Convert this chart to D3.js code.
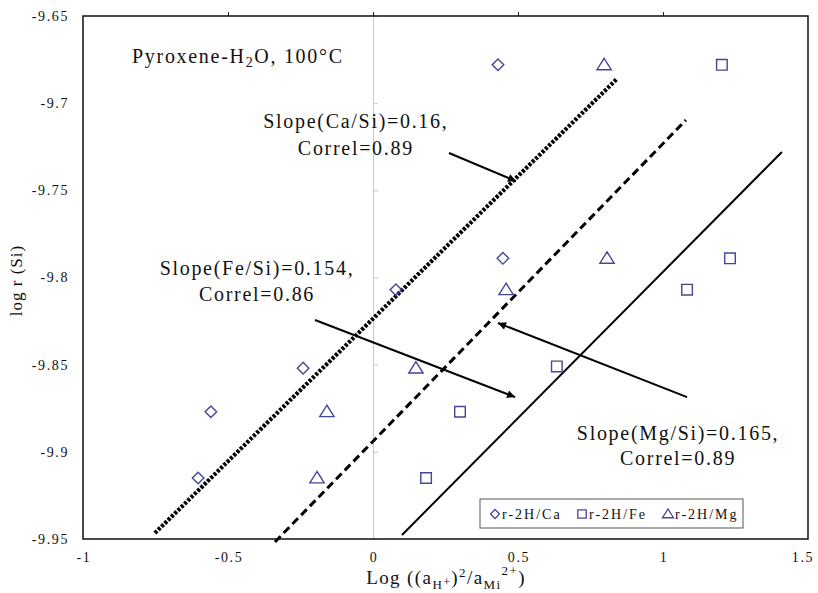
<!DOCTYPE html>
<html><head><meta charset="utf-8">
<script src="https://cdn.jsdelivr.net/npm/d3@7"></script>
<style>
html,body{margin:0;padding:0;background:#fff;}
text{font-family:"Liberation Serif","Times New Roman",serif;fill:#111;}
</style></head>
<body><svg id="chart" width="818" height="593"></svg>
<script>
// ---- data ----
const caX = [0.431, 0.448, 0.079, -0.241, -0.559, -0.603];
const caY = [-9.678, -9.789, -9.807, -9.852, -9.877, -9.915];
const feX = [1.203, 1.231, 1.083, 0.634, 0.300, 0.183];
const feY = [-9.678, -9.789, -9.807, -9.851, -9.877, -9.915];
const mgX = [0.797, 0.807, 0.459, 0.148, -0.159, -0.193];
const mgY = [-9.678, -9.789, -9.807, -9.852, -9.877, -9.915];
const xTicks = [-1, -0.5, 0, 0.5, 1, 1.5];
const xTickLabels = ["-1", "-0.5", "0", "0.5", "1", "1.5"];
const yTicks = [-9.65, -9.7, -9.75, -9.8, -9.85, -9.9, -9.95];
const yTickLabels = ["-9.65", "-9.7", "-9.75", "-9.8", "-9.85", "-9.9", "-9.95"];
// trend lines [x0,y0,x1,y1]
const caTrend = [-0.752, -9.9466, 0.841, -9.6861];
const feTrend = [-0.338, -9.9517, 1.079, -9.7097];
const mgTrend = [0.100, -9.9477, 1.410, -9.728];
// annotation arrows [xFrom,yFrom,xTo,yTo]
const caArrow = [0.262, -9.7286, 0.493, -9.7447];
const feArrow = [-0.200, -9.8244, 0.490, -9.8686];
const mgArrow = [1.083, -9.8686, 0.431, -9.8261];
const legendLabels = ["r-2H/Ca", "r-2H/Fe", "r-2H/Mg"];

const svg = d3.select("#chart");
const L = 83, R = 808, T = 16, B = 539;
const x = d3.scaleLinear().domain([-1, 1.5]).range([L, R]);
const y = d3.scaleLinear().domain([-9.95, -9.65]).range([B, T]);
const markColor = "#45459a";

// gray y axis at x=0
const yAxis = d3.axisRight(y).tickValues(yTicks).tickSize(5).tickFormat("");
const gy = svg.append("g").attr("transform", `translate(${x(0)},0)`).call(yAxis);
gy.selectAll("path,line").attr("stroke", "#c8c8c8").attr("stroke-width", 1);

// top ticks (x axis at top)
const xAxis = d3.axisTop(x).tickValues(xTicks.slice(1, 5)).tickSize(4).tickFormat("");
const gx = svg.append("g").attr("transform", `translate(0,${T})`).call(xAxis);
gx.select("path").remove();
gx.selectAll("line").attr("stroke", "#222");

// plot frame
svg.append("rect").attr("x", L).attr("y", T).attr("width", R - L).attr("height", B - T)
  .attr("fill", "none").attr("stroke", "#111").attr("stroke-width", 1.5);

// tick labels
svg.append("g").selectAll("text").data(yTicks).join("text")
  .attr("x", L - 14).attr("y", d => y(d)).attr("dy", "0.35em")
  .attr("text-anchor", "end").style("font-size", "14px").style("letter-spacing", "1.6px")
  .text((d, i) => yTickLabels[i]);
svg.append("g").selectAll("text").data(xTicks).join("text")
  .attr("x", (d, i) => x(d) + (i === xTicks.length - 1 ? -5 : 1)).attr("y", B + 23)
  .attr("text-anchor", "middle").style("font-size", "14px").style("letter-spacing", "1.6px")
  .text((d, i) => xTickLabels[i]);

// axis titles
svg.append("text").attr("transform", `translate(22,${(T + B) / 2 + 3}) rotate(-90)`)
  .attr("text-anchor", "middle").style("font-size", "17px").style("letter-spacing", "1px")
  .text("log r (Si)");
const xt = svg.append("text").attr("x", 446).attr("y", 584).attr("text-anchor", "middle")
  .style("font-size", "19px").style("letter-spacing", "1.4px");
xt.append("tspan").text("Log ((a");
xt.append("tspan").attr("dy", 5).style("font-size", "13px").text("H");
xt.append("tspan").attr("dy", -3).style("font-size", "12px").text("+");
xt.append("tspan").attr("dy", -2).text(")");
xt.append("tspan").attr("dy", -7).style("font-size", "13px").text("2");
xt.append("tspan").attr("dy", 7).text("/a");
xt.append("tspan").attr("dy", 5).style("font-size", "13px").text("Mi");
xt.append("tspan").attr("dy", -14).style("font-size", "13px").text("2+");
xt.append("tspan").attr("dy", 9).text(")");

// trend lines
const trendStyles = [
  {d: caTrend, w: 4.2, dash: "3,1.6"},
  {d: feTrend, w: 3, dash: "8,4.5"},
  {d: mgTrend, w: 2, dash: null}
];
trendStyles.forEach(t => {
  svg.append("line").attr("x1", x(t.d[0])).attr("y1", y(t.d[1]))
    .attr("x2", x(t.d[2])).attr("y2", y(t.d[3]))
    .attr("stroke", "#000").attr("stroke-width", t.w)
    .attr("stroke-dasharray", t.dash);
});

// arrows
const defs = svg.append("defs");
defs.append("marker").attr("id", "ah").attr("viewBox", "0 0 10 10").attr("refX", 10).attr("refY", 5)
  .attr("markerWidth", 12).attr("markerHeight", 8).attr("markerUnits", "userSpaceOnUse")
  .attr("orient", "auto").append("path").attr("d", "M0,0L10,5L0,10Z").attr("fill", "#000");
[caArrow, feArrow, mgArrow].forEach(a => {
  svg.append("line").attr("x1", x(a[0])).attr("y1", y(a[1])).attr("x2", x(a[2])).attr("y2", y(a[3]))
    .attr("stroke", "#000").attr("stroke-width", 2).attr("marker-end", "url(#ah)");
});

// markers
const sym = {
  diamond: s => `M0,${-s}L${s},0L0,${s}L${-s},0Z`,
  square: s => `M${-s},${-s}H${s}V${s}H${-s}Z`,
  triangle: s => `M0,${-s}L${s*1.1},${s*0.75}H${-s*1.1}Z`
};
function drawSeries(xs, ys, shape, size) {
  svg.append("g").selectAll("path").data(xs).join("path")
    .attr("transform", (d, i) => `translate(${x(d)},${y(ys[i])})`)
    .attr("d", sym[shape](size)).attr("fill", "none")
    .attr("stroke", markColor).attr("stroke-width", 1.4);
}
drawSeries(caX, caY, "diamond", 5.8);
drawSeries(feX, feY, "square", 5.3);
drawSeries(mgX, mgY, "triangle", 6.5);

// annotation texts
const annStyle = t => t.style("font-size", "20px").style("letter-spacing", "1.7px");
const t1 = svg.append("text").attr("x", x(-0.831)).attr("y", y(-9.677)).call(annStyle);
t1.append("tspan").text("Pyroxene-H");
t1.append("tspan").attr("dy", 4).style("font-size", "14px").text("2");
t1.append("tspan").attr("dy", -4).text("O, 100°C");
function twoLine(cx, y1, y2, a, b) {
  svg.append("text").attr("x", x(cx)).attr("y", y(y1)).attr("text-anchor", "middle").call(annStyle).text(a);
  svg.append("text").attr("x", x(cx)).attr("y", y(y2)).attr("text-anchor", "middle").call(annStyle).text(b);
}
twoLine(-0.059, -9.7142, -9.7297, "Slope(Ca/Si)=0.16,", "Correl=0.89");
twoLine(-0.40, -9.7986, -9.8135, "Slope(Fe/Si)=0.154,", "Correl=0.86");
twoLine(1.052, -9.8932, -9.9076, "Slope(Mg/Si)=0.165,", "Correl=0.89");

// legend
const lg = svg.append("g").attr("transform", "translate(480,499)");
lg.append("rect").attr("width", 263).attr("height", 29).attr("fill", "#fff")
  .attr("stroke", "#555").attr("stroke-width", 1);
const shapes = ["diamond", "square", "triangle"];
const sizes = [4.5, 4.2, 5];
const offs = [15, 102, 188];
legendLabels.forEach((lab, i) => {
  lg.append("path").attr("transform", `translate(${offs[i]},15)`).attr("d", sym[shapes[i]](sizes[i]))
    .attr("fill", "none").attr("stroke", markColor).attr("stroke-width", 1.3);
  lg.append("text").attr("x", offs[i] + 7).attr("y", 15).attr("dy", "0.35em")
    .style("font-size", "14px").style("letter-spacing", "2px").text(lab);
});
</script></body></html>
